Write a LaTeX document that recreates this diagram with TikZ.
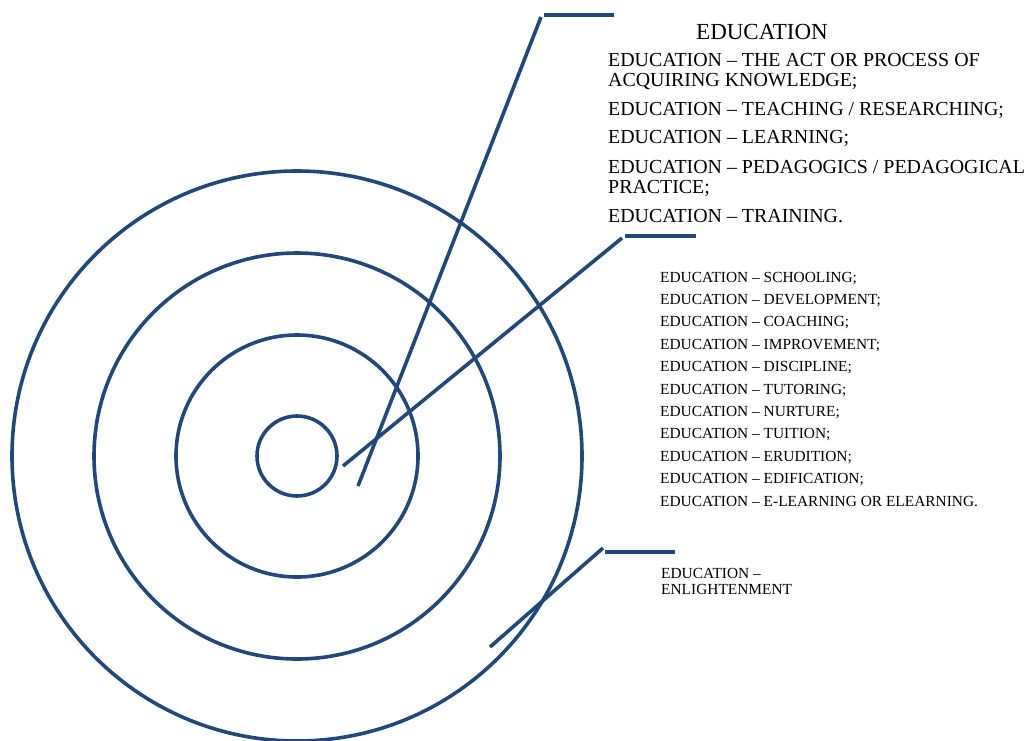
\documentclass[tikz,border=0pt]{standalone}
\usepackage{fontspec}
\setmainfont{Liberation Serif}
\usetikzlibrary{positioning}
\definecolor{ringblue}{RGB}{31,73,125}

\begin{document}
\begin{tikzpicture}[x=1pt,y=-1pt,
ring/.style={draw=ringblue,line width=3.6pt},
leader/.style={draw=ringblue,line width=3.6pt},
bigtext/.style={inner sep=0pt,anchor=base west,align=left,font=\fontsize{19.9}{20}\selectfont},
smalltext/.style={inner sep=0pt,anchor=base west,align=left,font=\fontsize{15.4}{16}\selectfont}]
\useasboundingbox (0,0) rectangle (1030,740);
% rings round the centre
\coordinate (c) at (297,456);
\draw[ring] (c) circle[radius=40pt];
\draw[ring] (c) circle[radius=121pt];
\draw[ring] (c) circle[radius=203pt];
\draw[ring] (c) circle[radius=285pt];
% upper block (base = last line)
\node[inner sep=0pt,anchor=base,font=\fontsize{23}{23}\selectfont] (title) at (762,39) {EDUCATION};
\node[bigtext] (d1) at (608,86) {EDUCATION -- THE ACT OR PROCESS OF\\ACQUIRING KNOWLEDGE;};
\node[bigtext] (d2) at (608,115) {EDUCATION -- TEACHING / RESEARCHING;};
\node[bigtext] (d3) at (608,143) {EDUCATION -- LEARNING;};
\node[bigtext] (d4) at (608,193) {EDUCATION -- PEDAGOGICS / PEDAGOGICAL\\PRACTICE;};
\node[bigtext] (d5) at (608,222) {EDUCATION -- TRAINING.};
% middle block
\node[smalltext] (s1) at (660,282) {EDUCATION -- SCHOOLING;};
\node[smalltext] (s2) at (660,304.4) {EDUCATION -- DEVELOPMENT;};
\node[smalltext] (s3) at (660,326.8) {EDUCATION -- COACHING;};
\node[smalltext] (s4) at (660,349.2) {EDUCATION -- IMPROVEMENT;};
\node[smalltext] (s5) at (660,371.6) {EDUCATION -- DISCIPLINE;};
\node[smalltext] (s6) at (660,394) {EDUCATION -- TUTORING;};
\node[smalltext] (s7) at (660,416.4) {EDUCATION -- NURTURE;};
\node[smalltext] (s8) at (660,438.8) {EDUCATION -- TUITION;};
\node[smalltext] (s9) at (660,461.2) {EDUCATION -- ERUDITION;};
\node[smalltext] (s10) at (660,483.6) {EDUCATION -- EDIFICATION;};
\node[smalltext] (s11) at (660,506) {EDUCATION -- E-LEARNING OR ELEARNING.};
% lower block
\node[smalltext] (e1) at (661,594) {EDUCATION --\\ENLIGHTENMENT};
% leaders
\coordinate (a0) at (358,486);
\coordinate (a1) at (541,17);
\coordinate (a2) at (544,15);
\coordinate (a3) at (614,15);
\coordinate (b0) at (343,466);
\coordinate (b1) at (622,238);
\coordinate (b2) at (625,236);
\coordinate (b3) at (696,236);
\coordinate (f0) at (490,647);
\coordinate (f1) at (603,548);
\coordinate (f2) at (605,552);
\coordinate (f3) at (675,552);
\draw[leader] (a0) -- (a1);
\draw[leader] (a2) -- (a3);
\draw[leader] (b0) -- (b1);
\draw[leader] (b2) -- (b3);
\draw[leader] (f0) -- (f1);
\draw[leader] (f2) -- (f3);
\end{tikzpicture}
\end{document}
